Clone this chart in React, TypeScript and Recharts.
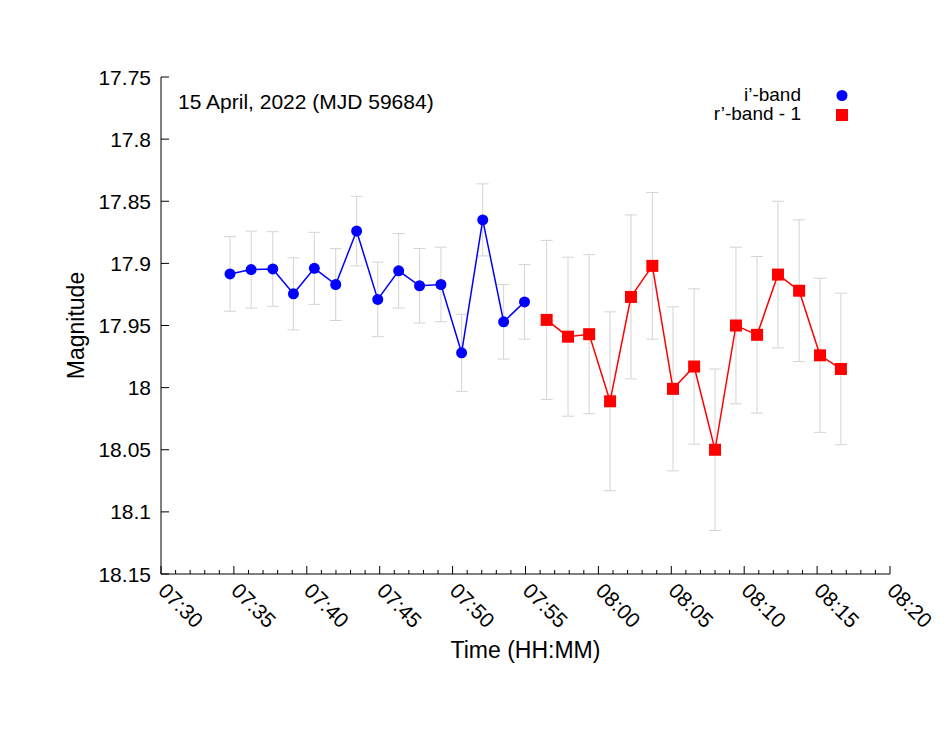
import React from 'react';
import { LineChart, Line, XAxis, YAxis, ErrorBar, Legend } from 'recharts';

// ---- data (times are UT HH:MM:SS) ----
const iTimes = ['07:34:44', '07:36:11', '07:37:40', '07:39:05', '07:40:31', '07:41:59', '07:43:25', '07:44:52', '07:46:18', '07:47:44', '07:49:12', '07:50:37', '07:52:04', '07:53:30', '07:54:56'];
const iMag = [17.9085, 17.905, 17.9045, 17.9245, 17.904, 17.917, 17.874, 17.929, 17.906, 17.918, 17.917, 17.972, 17.865, 17.947, 17.931];
const iErr = [0.030, 0.031, 0.030, 0.029, 0.029, 0.029, 0.028, 0.030, 0.030, 0.030, 0.030, 0.031, 0.029, 0.030, 0.030];

const rTimes = ['07:56:27', '07:57:55', '07:59:22', '08:00:48', '08:02:14', '08:03:42', '08:05:07', '08:06:34', '08:08:00', '08:09:26', '08:10:53', '08:12:19', '08:13:46', '08:15:12', '08:16:38'];
const rMag = [17.9455, 17.959, 17.957, 18.011, 17.927, 17.902, 18.001, 17.983, 18.050, 17.950, 17.9575, 17.909, 17.922, 17.974, 17.985];
const rErr = [0.064, 0.064, 0.064, 0.072, 0.066, 0.059, 0.066, 0.0625, 0.065, 0.063, 0.063, 0.059, 0.057, 0.062, 0.061];

const xTickLabels = ['07:30', '07:35', '07:40', '07:45', '07:50', '07:55', '08:00', '08:05', '08:10', '08:15', '08:20'];
const yTicks = [17.75, 17.8, 17.85, 17.9, 17.95, 18, 18.05, 18.1, 18.15];

const TITLE = '15 April, 2022 (MJD 59684)';

// ---- helpers ----
const FONT = '"Liberation Sans", Arial, Helvetica, sans-serif';
const toMin = (s: string) => {
  const p = s.split(':').map(Number);
  return p[0] * 60 + p[1] + (p[2] || 0) / 60;
};
const pad = (n: number) => (n < 10 ? '0' + n : '' + n);
const fmtTime = (v: number) => {
  const m = Math.round(v);
  return pad(Math.floor(m / 60)) + ':' + pad(m % 60);
};
const fmtY = (v: number) => String(parseFloat(v.toFixed(2)));

const iData = iTimes.map((t, k) => ({ t: toMin(t), mag: iMag[k], err: iErr[k] }));
const rData = rTimes.map((t, k) => ({ t: toMin(t), mag: rMag[k], err: rErr[k] }));

const majorX = xTickLabels.map(toMin);
const xMin = majorX[0];
const xMax = majorX[majorX.length - 1];
const allX: number[] = [];
for (let v = xMin; v <= xMax; v += 1) allX.push(v);
const isMajor = (v: number) => majorX.some((m) => Math.abs(m - v) < 1e-6);

const MAJ = 8;
const MIN = 4;

const BottomTick = (p: any) => {
  const v = p.payload.value;
  const major = isMajor(v);
  const tx = p.x - 4;
  const ty = p.y + 18;
  return (
    <g>
      <line x1={p.x} x2={p.x} y1={p.y} y2={p.y - (major ? MAJ : MIN)} stroke="#000" strokeWidth={1} />
      {major && (
        <text x={tx} y={ty} transform={`rotate(45 ${tx} ${ty})`} fontSize={21} fontFamily={FONT} fill="#000" textAnchor="start">
          {fmtTime(v)}
        </text>
      )}
    </g>
  );
};

const TopTick = (p: any) => {
  const v = p.payload.value;
  const major = isMajor(v);
  return <line x1={p.x} x2={p.x} y1={p.y} y2={p.y + (major ? MAJ : MIN)} stroke="#000" strokeWidth={1} />;
};

const LeftTick = (p: any) => (
  <g>
    <line x1={p.x} x2={p.x + MAJ} y1={p.y} y2={p.y} stroke="#000" strokeWidth={1} />
    <text x={p.x - 10} y={p.y} dy="0.36em" textAnchor="end" fontSize={21} fontFamily={FONT} fill="#000">
      {fmtY(p.payload.value)}
    </text>
  </g>
);

const RightTick = (p: any) => <line x1={p.x} x2={p.x - MAJ} y1={p.y} y2={p.y} stroke="#000" strokeWidth={1} />;

const BlueDot = (p: any) => <circle key={'b' + p.index} cx={p.cx} cy={p.cy} r={5.5} fill="#0000ff" />;
const RedDot = (p: any) => <rect key={'r' + p.index} x={p.cx - 6} y={p.cy - 6} width={12} height={12} fill="#ff0000" />;

const LegendContent = (props: any) => {
  const items = props.payload || [];
  return (
    <div style={{ fontFamily: FONT, fontSize: 19, color: '#000' }}>
      {items.map((it: any, k: number) => (
        <div key={k} style={{ display: 'flex', alignItems: 'center', height: 19, lineHeight: '19px' }}>
          <span style={{ width: 101, textAlign: 'right', whiteSpace: 'nowrap' }}>{it.value}</span>
          <svg width={70} height={19} style={{ display: 'block' }}>
            {k === 0 ? <circle cx={41} cy={10.5} r={5.5} fill="#0000ff" /> : <rect x={35} y={5} width={12} height={12} fill="#ff0000" />}
          </svg>
        </div>
      ))}
    </div>
  );
};

export default function App() {
  return (
    <div style={{ position: 'absolute', left: 0, top: 0, width: 947, height: 732, background: '#fff' }}>
      <LineChart width={947} height={732} margin={{ top: 77, right: 57, bottom: 58, left: 0 }}>
        <XAxis
          xAxisId="b"
          dataKey="t"
          type="number"
          domain={[xMin, xMax]}
          ticks={allX}
          interval={0}
          allowDataOverflow
          height={100}
          tickSize={0}
          tickMargin={0}
          tickLine={false}
          tick={<BottomTick />}
          axisLine={{ stroke: '#000', strokeWidth: 1 }}
          label={{ value: 'Time (HH:MM)', position: 'insideBottom', offset: 16, style: { fontSize: 23, fontFamily: FONT, fill: '#000' } }}
        />
        <XAxis
          xAxisId="t"
          orientation="top"
          dataKey="t"
          type="number"
          domain={[xMin, xMax]}
          ticks={allX}
          interval={0}
          allowDataOverflow
          height={0}
          tickSize={0}
          tickMargin={0}
          tickLine={false}
          tick={<TopTick />}
          axisLine={{ stroke: '#000', strokeWidth: 1 }}
        />
        <YAxis
          yAxisId="l"
          type="number"
          domain={[yTicks[0], yTicks[yTicks.length - 1]]}
          ticks={yTicks}
          interval={0}
          reversed
          allowDataOverflow
          width={161}
          tickSize={0}
          tickMargin={0}
          tickLine={false}
          tick={<LeftTick />}
          axisLine={{ stroke: '#000', strokeWidth: 1 }}
          label={{ value: 'Magnitude', angle: -90, position: 'insideLeft', offset: 76, style: { fontSize: 23, fontFamily: FONT, fill: '#000', textAnchor: 'middle' } }}
        />
        <YAxis
          yAxisId="r"
          orientation="right"
          type="number"
          domain={[yTicks[0], yTicks[yTicks.length - 1]]}
          ticks={yTicks}
          interval={0}
          reversed
          allowDataOverflow
          width={0}
          tickSize={0}
          tickMargin={0}
          tickLine={false}
          tick={<RightTick />}
          axisLine={{ stroke: '#000', strokeWidth: 1 }}
        />
        <Legend
          layout="vertical"
          align="center"
          verticalAlign="middle"
          content={<LegendContent />}
          wrapperStyle={{ position: 'absolute', left: 700, top: 85, width: 180, height: 40 }}
        />
        <Line
          xAxisId="b"
          yAxisId="l"
          data={iData}
          dataKey="mag"
          name={'i\u2019-band'}
          stroke="#0000ff"
          strokeWidth={1.5}
          dot={BlueDot}
          activeDot={false}
          isAnimationActive={false}
          legendType="circle"
        >
          <ErrorBar dataKey="err" direction="y" width={6} stroke="#d4d4d4" strokeWidth={1} />
        </Line>
        <Line
          xAxisId="b"
          yAxisId="l"
          data={rData}
          dataKey="mag"
          name={'r\u2019-band - 1'}
          stroke="#ff0000"
          strokeWidth={1.5}
          dot={RedDot}
          activeDot={false}
          isAnimationActive={false}
          legendType="square"
        >
          <ErrorBar dataKey="err" direction="y" width={6} stroke="#d4d4d4" strokeWidth={1} />
        </Line>
      </LineChart>
      <div style={{ position: 'absolute', left: 178, top: 91, fontFamily: FONT, fontSize: 21, lineHeight: '21px', color: '#000', whiteSpace: 'nowrap' }}>
        {TITLE}
      </div>
    </div>
  );
}
